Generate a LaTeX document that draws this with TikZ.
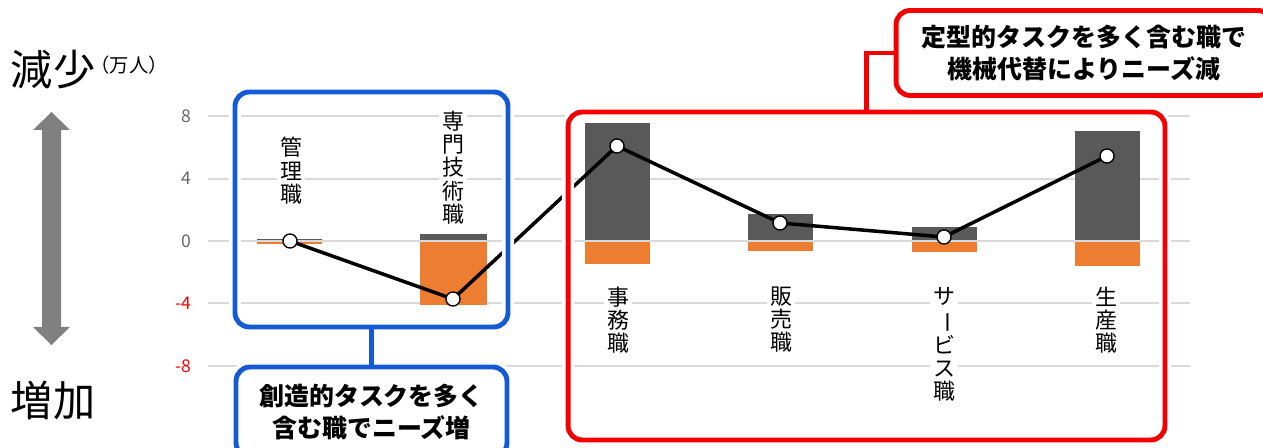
\documentclass[tikz,border=0pt]{standalone}
\usepackage{fontspec}
\newfontfamily\jp{Noto Sans CJK JP}
\definecolor{gridgray}{HTML}{D9D9D9}
\definecolor{bargray}{HTML}{595959}
\definecolor{barorange}{HTML}{ED7D31}
\definecolor{tickgray}{HTML}{666666}
\definecolor{arrowgray}{HTML}{808080}
\definecolor{boxblue}{RGB}{20,90,215}
\definecolor{boxred}{RGB}{245,0,0}
\newcommand{\vbar}{\rotatebox[origin=c]{-90}{ー}}
\tikzset{
  gridline/.style={draw=gridgray,line width=1.1pt},
  ticklabel/.style={anchor=east,inner sep=0pt,font=\jp\fontsize{10}{10}\selectfont,text=tickgray},
  catlabel/.style={fill=white,align=center,inner sep=1.5pt,font=\jp\fontsize{12.5}{13.2}\selectfont},
  point/.style={circle,draw=black,fill=white,line width=0.8pt,minimum size=8pt,inner sep=0pt},
  dataline/.style={line width=2pt,black},
  halo/.style={preaction={draw=white,line width=7pt}},
  groupbox/.style={rounded corners=8pt,line width=2.8pt,halo},
  callout/.style={groupbox,fill=white,align=center,font=\jp\bfseries\fontsize{14.2}{18}\selectfont},
}
\begin{document}
\begin{tikzpicture}[x=0.02cm,y=-0.02cm]
            \useasboundingbox (0,0) rectangle (1263,448);
            \clip (0,0) rectangle (1263,448);

            % Drawing grid lines and ticks
            \draw [gridline] (208,116.2) -- (1190,116.2);%
            \draw [gridline] (208,178.6) -- (1190,178.6);%
            \draw [gridline] (208,241.0) -- (1190,241.0);%
            \draw [gridline] (208,303.4) -- (1190,303.4);%
            \draw [gridline] (208,365.8) -- (1190,365.8);%
            \node [ticklabel] (t8) at (192,116.2) {8};%
            \node [ticklabel] (t4) at (192,178.6) {4};%
            \node [ticklabel] (t0) at (192,241.0) {0};%
            \node [ticklabel,text=red] (tm4) at (192,303.4) {-4};%
            \node [ticklabel,text=red] (tm8) at (192,365.8) {-8};%

            % Drawing bars (decrease above, increase below)
            \fill [bargray] (257,239.0) rectangle (322,241);%
            \fill [barorange] (257,241) rectangle (322,244.0);%
            \fill [bargray] (420,234.0) rectangle (487,241);%
            \fill [barorange] (420,241) rectangle (487,305.0);%
            \fill [bargray] (585,123.0) rectangle (650,241);%
            \fill [barorange] (585,241) rectangle (650,264.0);%
            \fill [bargray] (748,214.0) rectangle (813,241);%
            \fill [barorange] (748,241) rectangle (813,251.0);%
            \fill [bargray] (912,227.0) rectangle (977,241);%
            \fill [barorange] (912,241) rectangle (977,252.0);%
            \fill [bargray] (1075,131.0) rectangle (1140,241);%
            \fill [barorange] (1075,241) rectangle (1140,266.0);%
            \draw [draw=gridgray,line width=0.6pt] (250,241.0) -- (1150,241.0);%

            % Drawing net change line
            \coordinate (pkanri) at (290,241);%
            \coordinate (psenmon) at (453,299);%
            \coordinate (pjimu) at (617,146);%
            \coordinate (phanbai) at (780,223);%
            \coordinate (pservice) at (944,237);%
            \coordinate (pseisan) at (1107,156);%
            \draw [dataline] (pkanri) -- (psenmon) -- (pjimu) -- (phanbai) -- (pservice) -- (pseisan);%

            % Drawing group boxes and callouts
            \node [groupbox,draw=boxblue,minimum width=5.46cm,minimum height=4.7cm] (bluebox) at (371.5,209.5) {};%
            \node [callout,draw=boxblue,minimum width=5.42cm,minimum height=1.8cm] (bluecallout) at (371.5,412) {創造的タスクを多く\\含む職でニーズ増};%
            \draw [boxblue,line width=2.8pt] (bluebox.south) -- (bluecallout.north);%
            \node [groupbox,draw=boxred,minimum width=11.94cm,minimum height=6.56cm] (redbox) at (866.5,276) {};%
            \node [callout,draw=boxred,minimum width=7.52cm,minimum height=1.7cm] (redcallout) at (1084,53) {定型的タスクを多く含む職で\\機械代替によりニーズ減};%
            \draw [boxred,line width=2.8pt] (redbox.north) |- (redcallout.west);%

            % Marking points
            \node [point] (ckanri) at (pkanri) {};%
            \node [point] (csenmon) at (psenmon) {};%
            \node [point] (cjimu) at (pjimu) {};%
            \node [point] (chanbai) at (phanbai) {};%
            \node [point] (cservice) at (pservice) {};%
            \node [point] (cseisan) at (pseisan) {};%

            % Marking job categories
            \node [catlabel,anchor=south] (lkanri) at (291,207) {管\\理\\職};%
            \node [catlabel,anchor=south] (lsenmon) at (453,227) {専\\門\\技\\術\\職};%
            \node [catlabel,anchor=north] (ljimu) at (618,284) {事\\務\\職};%
            \node [catlabel,anchor=north] (lhanbai) at (781,284) {販\\売\\職};%
            \node [catlabel,anchor=north] (lservice) at (944,284) {サ\\\vbar\\ビ\\ス\\職};%
            \node [catlabel,anchor=north] (lseisan) at (1106,284) {生\\産\\職};%

            % Marking axis direction
            \node [font=\jp\fontsize{24}{24}\selectfont,inner sep=0pt] (gensho) at (53,70) {減少};%
            \node [font=\jp\fontsize{11}{11}\selectfont,inner sep=0pt] (unit) at (129,65) {（万人）};%
            \node [font=\jp\fontsize{24}{24}\selectfont,inner sep=0pt] (zoka) at (53,400) {増加};%
            \fill [arrowgray] (51.5,112) -- (70,130) -- (61,130) -- (61,327) -- (70,327) -- (51.5,345)
                -- (33,327) -- (42,327) -- (42,130) -- (33,130) -- cycle;%
\end{tikzpicture}
\end{document}
